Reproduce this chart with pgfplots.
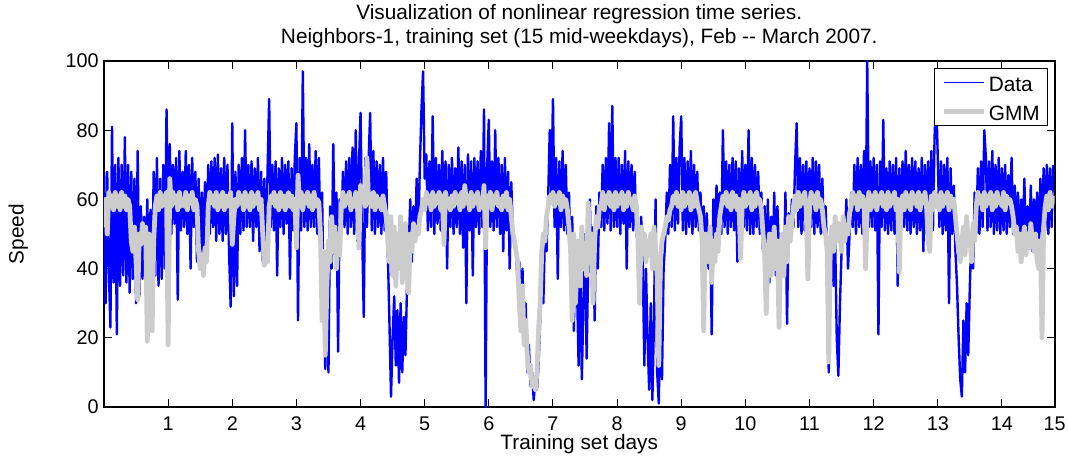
\documentclass[border=0pt]{standalone}
\usepackage{fontspec}
\setmainfont{Liberation Sans}
\usepackage{pgfplots}
\pgfplotsset{compat=1.18}
\usepackage{pgfplotstable}
\definecolor{dblue}{RGB}{0,0,255}
\definecolor{gmmgray}{RGB}{204,204,204}
% Data: 40 samples per day
\pgfplotstableread[row sep=\\]{y\\
68\\30\\68\\40\\23\\81\\36\\70\\21\\72\\35\\70\\38\\78\\36\\70\\33\\68\\37\\66\\30\\74\\32\\58\\37\\55\\36\\60\\35\\57\\36\\68\\38\\72\\35\\66\\37\\70\\40\\86\\
52\\76\\50\\70\\53\\72\\31\\74\\51\\68\\52\\74\\50\\70\\40\\72\\52\\68\\42\\66\\41\\62\\43\\65\\46\\70\\50\\71\\52\\72\\48\\73\\50\\69\\48\\72\\50\\70\\45\\29\\
82\\32\\68\\35\\70\\50\\72\\51\\80\\52\\70\\52\\71\\48\\69\\52\\72\\45\\68\\42\\66\\44\\68\\89\\52\\70\\51\\71\\38\\69\\52\\72\\50\\70\\53\\71\\37\\69\\51\\72\\
82\\25\\72\\51\\97\\52\\72\\51\\76\\52\\70\\52\\74\\50\\72\\48\\62\\30\\11\\45\\10\\58\\40\\76\\44\\62\\16\\60\\50\\68\\52\\71\\50\\72\\52\\75\\50\\80\\48\\70\\
85\\51\\26\\72\\52\\71\\85\\51\\74\\50\\71\\52\\70\\50\\72\\51\\68\\45\\25\\3\\20\\32\\12\\28\\7\\30\\10\\26\\15\\35\\45\\60\\42\\58\\48\\66\\50\\70\\86\\97\\
66\\73\\51\\71\\52\\84\\50\\72\\53\\70\\51\\74\\52\\71\\40\\70\\52\\72\\50\\69\\52\\75\\50\\71\\46\\70\\30\\73\\51\\71\\38\\72\\52\\71\\50\\74\\52\\86\\0\\70\\
83\\52\\71\\51\\80\\52\\72\\50\\70\\45\\72\\51\\68\\40\\65\\50\\48\\45\\35\\42\\25\\40\\20\\30\\10\\18\\6\\10\\2\\8\\5\\12\\25\\35\\30\\50\\45\\60\\80\\62\\
89\\52\\72\\37\\71\\52\\74\\51\\70\\50\\62\\40\\55\\22\\48\\35\\12\\45\\8\\30\\50\\14\\42\\60\\35\\52\\25\\58\\40\\62\\52\\70\\51\\72\\53\\82\\51\\87\\52\\72\\
52\\72\\50\\70\\53\\74\\40\\71\\52\\70\\51\\68\\50\\48\\30\\55\\42\\12\\40\\20\\5\\30\\2\\25\\60\\10\\1\\30\\8\\40\\48\\62\\50\\70\\52\\84\\51\\72\\53\\75\\
84\\51\\72\\50\\71\\52\\74\\50\\70\\52\\68\\51\\62\\48\\58\\45\\56\\40\\52\\21\\60\\48\\64\\52\\62\\50\\80\\52\\71\\50\\70\\52\\72\\51\\71\\42\\69\\50\\74\\52\\
70\\51\\80\\50\\72\\50\\70\\52\\68\\50\\62\\45\\58\\40\\60\\36\\55\\42\\62\\38\\58\\44\\45\\50\\40\\62\\24\\56\\48\\60\\52\\70\\82\\52\\72\\50\\70\\51\\71\\50\\
69\\52\\72\\50\\71\\52\\70\\50\\66\\50\\58\\45\\10\\40\\52\\35\\48\\20\\9\\30\\45\\55\\48\\60\\40\\50\\62\\52\\70\\50\\72\\52\\70\\50\\74\\50\\100\\52\\71\\52\\
72\\51\\70\\21\\71\\52\\83\\51\\69\\50\\71\\51\\70\\50\\72\\35\\69\\51\\71\\52\\74\\51\\70\\50\\72\\52\\71\\50\\69\\51\\72\\45\\70\\50\\71\\52\\74\\51\\78\\90\\
72\\52\\71\\50\\70\\51\\72\\30\\69\\50\\64\\45\\35\\20\\8\\3\\25\\10\\30\\15\\35\\50\\40\\62\\50\\69\\50\\71\\52\\80\\72\\51\\71\\52\\74\\50\\70\\51\\72\\50\\
69\\51\\70\\50\\67\\52\\72\\50\\64\\48\\62\\46\\60\\48\\66\\44\\58\\46\\64\\45\\60\\48\\62\\46\\66\\50\\69\\51\\70\\50\\69\\52\\70\\
}\datatab
% GMM: 40 samples per day
\pgfplotstableread[row sep=\\]{y\\
52\\60\\50\\62\\58\\61\\57\\62\\58\\61\\57\\62\\58\\61\\57\\60\\58\\48\\45\\52\\42\\31\\50\\47\\53\\48\\52\\19\\50\\45\\22\\48\\58\\61\\57\\62\\58\\61\\59\\62\\
18\\66\\58\\62\\59\\61\\57\\62\\58\\60\\58\\62\\57\\61\\59\\62\\57\\60\\58\\45\\40\\44\\38\\46\\42\\58\\62\\59\\61\\58\\62\\57\\61\\58\\62\\57\\61\\58\\60\\62\\
47\\55\\60\\58\\62\\59\\61\\57\\62\\58\\61\\57\\62\\58\\61\\59\\62\\57\\60\\50\\41\\45\\42\\58\\61\\59\\62\\58\\61\\57\\62\\58\\61\\57\\60\\62\\58\\61\\57\\60\\
46\\67\\58\\62\\57\\61\\59\\62\\58\\61\\57\\62\\58\\60\\59\\50\\25\\45\\15\\35\\48\\42\\55\\45\\52\\40\\50\\44\\58\\62\\58\\61\\59\\62\\57\\60\\58\\62\\59\\46\\
64\\60\\62\\58\\72\\59\\61\\58\\62\\57\\61\\58\\60\\57\\61\\58\\55\\48\\42\\55\\38\\52\\35\\50\\40\\55\\36\\48\\53\\38\\33\\50\\45\\53\\48\\52\\50\\55\\57\\60\\
57\\62\\59\\61\\57\\62\\58\\61\\59\\62\\57\\61\\47\\62\\59\\60\\57\\61\\58\\62\\59\\61\\57\\62\\58\\64\\59\\61\\57\\62\\58\\61\\59\\62\\57\\60\\58\\64\\46\\61\\
58\\62\\57\\61\\59\\62\\58\\60\\57\\61\\58\\62\\57\\60\\55\\50\\48\\45\\42\\30\\22\\35\\18\\25\\15\\10\\12\\6\\8\\5\\10\\22\\30\\45\\50\\48\\55\\58\\61\\59\\
62\\58\\61\\59\\62\\57\\61\\58\\60\\57\\52\\45\\25\\50\\30\\42\\48\\35\\52\\40\\45\\38\\59\\42\\50\\30\\48\\55\\52\\58\\58\\62\\57\\61\\59\\62\\58\\61\\57\\62\\
58\\61\\59\\62\\57\\61\\58\\62\\59\\60\\57\\61\\58\\48\\30\\52\\45\\50\\42\\48\\44\\50\\40\\52\\45\\38\\12\\42\\48\\50\\52\\55\\54\\57\\58\\61\\59\\62\\58\\61\\
57\\62\\58\\61\\59\\62\\57\\61\\58\\62\\59\\57\\55\\48\\22\\50\\45\\42\\52\\36\\48\\42\\50\\45\\55\\58\\61\\59\\62\\58\\61\\57\\62\\58\\61\\57\\60\\43\\58\\62\\
58\\61\\59\\62\\57\\61\\58\\62\\59\\60\\57\\50\\45\\27\\42\\50\\38\\45\\52\\40\\48\\23\\45\\50\\38\\52\\42\\55\\48\\53\\58\\61\\57\\62\\58\\61\\59\\62\\57\\37\\
58\\62\\59\\61\\57\\62\\58\\60\\57\\52\\50\\45\\13\\48\\52\\45\\55\\48\\53\\50\\45\\55\\48\\52\\50\\56\\58\\62\\59\\61\\57\\62\\58\\61\\59\\40\\58\\62\\57\\61\\
58\\62\\57\\61\\59\\62\\58\\61\\57\\62\\58\\61\\59\\62\\57\\60\\39\\58\\61\\57\\62\\58\\61\\57\\62\\59\\61\\58\\62\\57\\61\\59\\62\\58\\48\\45\\61\\57\\62\\58\\
61\\57\\62\\58\\61\\59\\62\\57\\61\\58\\60\\55\\50\\45\\42\\48\\52\\44\\55\\47\\50\\42\\53\\48\\58\\62\\59\\61\\57\\62\\58\\61\\59\\62\\57\\61\\58\\62\\59\\60\\
58\\62\\57\\61\\59\\60\\58\\55\\50\\52\\45\\50\\42\\48\\52\\44\\50\\46\\53\\48\\45\\50\\42\\40\\48\\20\\52\\58\\61\\57\\62\\58\\61\\
}\gmmtab
\newcommand{\fs}{\fontsize{10.4}{12}\selectfont}
\newcommand{\ft}{\fontsize{9.9}{12}\selectfont}
\begin{document}
\begin{tikzpicture}
\useasboundingbox (-52pt,-26.5pt) rectangle (482pt,203.5pt);
\begin{axis}[
  at={(0pt,0pt)}, anchor=south west,
  scale only axis, width=475.25pt, height=173pt,
  xmin=0, xmax=14.82, ymin=0, ymax=100,
  xtick={1,2,3,4,5,6,7,8,9,10,11,12,13,14,14.82},
  xticklabels={1,2,3,4,5,6,7,8,9,10,11,12,13,14,15},
  ytick={0,20,40,60,80,100},
  tick align=inside, major tick length=4pt,
  tick pos=both, xticklabel pos=lower, yticklabel pos=left,
  axis line style={line width=1pt},
  every tick/.style={black, line width=0.5pt},
  tick label style={font=\ft},
  xticklabel style={yshift=-1.3pt},
  yticklabel style={xshift=0.9pt},
  /pgf/number format/assume math mode=true,
  xlabel={Training set days}, ylabel={Speed},
  every axis x label/.style={at={(axis description cs:0.5,-0.1225)}, anchor=base, font=\fs},
  every axis y label/.style={at={(axis description cs:-0.0846,0.5)}, rotate=90, anchor=base, font=\fs},
  title={Visualization of nonlinear regression time series.\\Neighbors-1, training set (15 mid-weekdays), Feb -{}- March 2007.},
  every axis title/.style={at={(axis description cs:0.5,1)}, anchor=south, inner sep=0pt, yshift=6.2pt, align=center, font=\fs},
  legend style={at={(axis description cs:0.99348,0.98064)}, anchor=north east, draw=black, line width=0.5pt, fill=white,
    inner xsep=3.7pt, inner ysep=2pt, font=\fs, row sep=4.35pt, column sep=1.3pt,
    nodes={inner sep=0pt, text height=9.65pt, text depth=0.5pt}},
  legend cell align=left,
  legend image code/.code={\draw[#1, line cap=butt] (0pt,0pt) -- (20pt,0pt);},
]
\addplot[dblue, line width=1.2pt, line join=round, forget plot] table[x expr=\coordindex/40, y=y] {\datatab};
\addplot[gmmgray, line width=2.4pt, line join=round, forget plot] table[x expr=\coordindex/40, y=y] {\gmmtab};
\addlegendimage{dblue, line width=0.5pt}
\addlegendentry{\makebox[25.8pt][l]{Data}}
\addlegendimage{gmmgray, line width=2.4pt}
\addlegendentry{\makebox[25.8pt][l]{GMM}}
\end{axis}
\end{tikzpicture}
\end{document}
